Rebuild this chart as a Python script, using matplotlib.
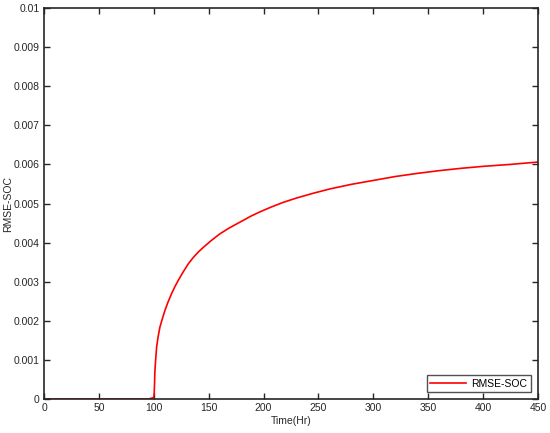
import matplotlib
matplotlib.use("Agg")
import matplotlib.pyplot as plt

time_hr = [0, 50, 95, 98, 100, 100.4, 100.7, 101, 101.7, 102.6, 104, 105.6, 108, 110.2,
           113, 116.3, 119, 122.4, 127, 131.5, 136, 140.6, 146, 152.7, 160, 167.9,
           175, 181.6, 188, 197, 207, 218, 230, 245, 260, 280, 300, 320, 340, 360,
           380, 400, 425, 450]
rmse_soc = [0, 0, 0, 0.00002, 0.00004, 0.00015, 0.0004, 0.0007, 0.001, 0.00133, 0.0016, 0.00184, 0.00207, 0.00227,
            0.00248, 0.0027, 0.00286, 0.00304, 0.00326, 0.00346, 0.00362, 0.00376, 0.0039, 0.00406, 0.00422, 0.00436,
            0.00447, 0.00457, 0.00467, 0.00479, 0.00491, 0.00503, 0.00514, 0.00526, 0.00537, 0.00549, 0.00559, 0.00569, 0.00577, 0.00584,
            0.0059, 0.00595, 0.006, 0.00606]

xticks = [0, 50, 100, 150, 200, 250, 300, 350, 400, 450]
yticks = [0, 0.001, 0.002, 0.003, 0.004, 0.005, 0.006, 0.007, 0.008, 0.009, 0.01]
ytick_labels = ["0", "0.001", "0.002", "0.003", "0.004", "0.005", "0.006", "0.007", "0.008", "0.009", "0.01"]

plt.rcParams['font.family'] = ['Liberation Sans', 'DejaVu Sans']

fig = plt.figure(figsize=(5.5, 4.33), dpi=100)
ax = fig.add_axes([44/550, 34/433, 494/550, 391/433])
ax.plot(time_hr, rmse_soc, color='#ff0000', linewidth=1.2, label='RMSE-SOC')
ax.set_xlim(0, 450)
ax.set_ylim(0, 0.01)
ax.set_xticks(xticks)
ax.set_xticklabels([str(t) for t in xticks])
ax.set_yticks(yticks)
ax.set_yticklabels(ytick_labels)
ax.tick_params(direction='in', length=4, width=1.0, top=True, right=True,
               labelsize=7.5, colors='#262626', pad=3)
for s in ax.spines.values():
    s.set_color('#262626')
    s.set_linewidth(1.2)
ax.set_xlabel('Time(Hr)', fontsize=7.5, color='#262626')
ax.xaxis.set_label_coords(0.5, (399 - 421.5) / 391)
ax.xaxis.label.set_va('center')
ax.set_ylabel('RMSE-SOC', fontsize=7.5, color='#262626')
ax.yaxis.set_label_coords((8 - 44) / 494, 0.5)
ax.yaxis.label.set_va('center')
leg = ax.legend(loc='lower right', fontsize=7.5, frameon=True, fancybox=False,
                edgecolor='#262626', handlelength=3.5, borderaxespad=0.7,
                borderpad=0.3, handletextpad=0.5)
leg.get_frame().set_linewidth(1.0)
fig.savefig('out.png', dpi=100)
